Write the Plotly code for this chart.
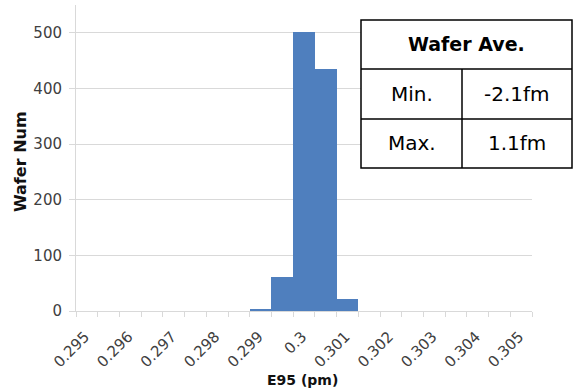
import plotly.graph_objects as go

# ---- data ----
bin_left = [0.299, 0.2995, 0.3, 0.3005, 0.301]
bin_width = 0.0005
counts = [4, 61, 502, 435, 22]

x_tickvals = [0.295, 0.296, 0.297, 0.298, 0.299, 0.300, 0.301, 0.302, 0.303, 0.304, 0.305]
x_ticktext = ["0.295", "0.296", "0.297", "0.298", "0.299", "0.3", "0.301", "0.302", "0.303", "0.304", "0.305"]
x_minor_ticks = [0.2955, 0.2965, 0.2975, 0.2985, 0.2995, 0.3005, 0.3015, 0.3025, 0.3035, 0.3045, 0.3055]
y_tickvals = [0, 100, 200, 300, 400, 500]

table_header = "Wafer Ave."
table_rows = [["Min.", "-2.1fm"], ["Max.", "1.1fm"]]

W, H = 573, 392
ML, MR, MT, MB = 76, 41, 5, 81
PW, PH = W - ML - MR, H - MT - MB

def px(x):
    return (x - ML) / PW

def py(y):
    return (H - MB - y) / PH

fig = go.Figure()
fig.add_trace(go.Bar(
    x=bin_left, y=counts, width=bin_width, offset=0,
    marker=dict(color="#4F7FBE", line=dict(width=0)),
    showlegend=False, hoverinfo="skip",
))

GRID = "#d9d9d9"
TICKFONT = dict(family="DejaVu Sans", size=15, color="#404040")

fig.update_layout(
    template="none",
    width=W, height=H,
    margin=dict(l=ML, r=MR, t=MT, b=MB, autoexpand=False),
    plot_bgcolor="white", paper_bgcolor="white",
    bargap=0,
    xaxis=dict(
        automargin=False,
        range=[0.295, 0.3055],
        tickmode="array", tickvals=x_tickvals, ticktext=x_ticktext,
        tickangle=-45, ticks="outside", ticklen=5, tickcolor=GRID, tickwidth=1,
        tickfont=TICKFONT, ticklabelshift=9, ticklabelstandoff=5,
        minor=dict(tickmode="array", tickvals=x_minor_ticks, ticks="outside",
                   ticklen=5, tickcolor=GRID, tickwidth=1, showgrid=False),
        showgrid=False, zeroline=False,
        showline=True, linecolor=GRID, linewidth=1,
    ),
    yaxis=dict(
        automargin=False,
        range=[0, 550],
        tickmode="array", tickvals=y_tickvals,
        ticks="outside", ticklen=6, tickcolor=GRID, tickwidth=1,
        tickfont=TICKFONT, ticklabelstandoff=4,
        showgrid=True, gridcolor=GRID, gridwidth=1,
        zeroline=False,
        showline=True, linecolor=GRID, linewidth=1,
    ),
)

# axis titles as annotations
fig.add_annotation(text="<b>Wafer Num</b>", xref="paper", yref="paper",
                   x=px(20), y=py(162), textangle=-90, showarrow=False,
                   xanchor="center", yanchor="middle",
                   font=dict(family="DejaVu Sans", size=16, color="#111111"))
fig.add_annotation(text="<b>E95 (pm)</b>", xref="paper", yref="paper",
                   x=px(302), y=py(380), showarrow=False,
                   xanchor="center", yanchor="middle",
                   font=dict(family="DejaVu Sans", size=14, color="#111111"))

# table overlay
TL, TR, TT, TB = 361, 572, 20, 168
R1, R2, CD = 69, 119, 462
fig.add_shape(type="rect", xref="paper", yref="paper",
              x0=px(TL), x1=px(TR), y0=py(TB), y1=py(TT),
              fillcolor="white", line=dict(color="black", width=1.5), layer="above")
for ry in (R1, R2):
    fig.add_shape(type="line", xref="paper", yref="paper",
                  x0=px(TL), x1=px(TR), y0=py(ry), y1=py(ry),
                  line=dict(color="black", width=1.5))
fig.add_shape(type="line", xref="paper", yref="paper",
              x0=px(CD), x1=px(CD), y0=py(TB), y1=py(R1),
              line=dict(color="black", width=1.5))

TFONT = "DejaVu Sans"
fig.add_annotation(text="<b>" + table_header + "</b>", xref="paper", yref="paper",
                   x=px((TL + TR) / 2), y=py((TT + R1) / 2), showarrow=False,
                   xanchor="center", yanchor="middle",
                   font=dict(family=TFONT, size=19, color="black"))
row_centers = [(R1 + R2) / 2, (R2 + TB) / 2]
for (lab, val), cy in zip(table_rows, row_centers):
    fig.add_annotation(text=lab, xref="paper", yref="paper",
                       x=px((TL + CD) / 2), y=py(cy), showarrow=False,
                       xanchor="center", yanchor="middle",
                       font=dict(family=TFONT, size=20, color="black"))
    fig.add_annotation(text=val, xref="paper", yref="paper",
                       x=px((CD + TR) / 2), y=py(cy), showarrow=False,
                       xanchor="center", yanchor="middle",
                       font=dict(family=TFONT, size=20, color="black"))

fig.write_html("out.html", config={"displayModeBar": False},
               post_script="document.body.style.margin='0';")
